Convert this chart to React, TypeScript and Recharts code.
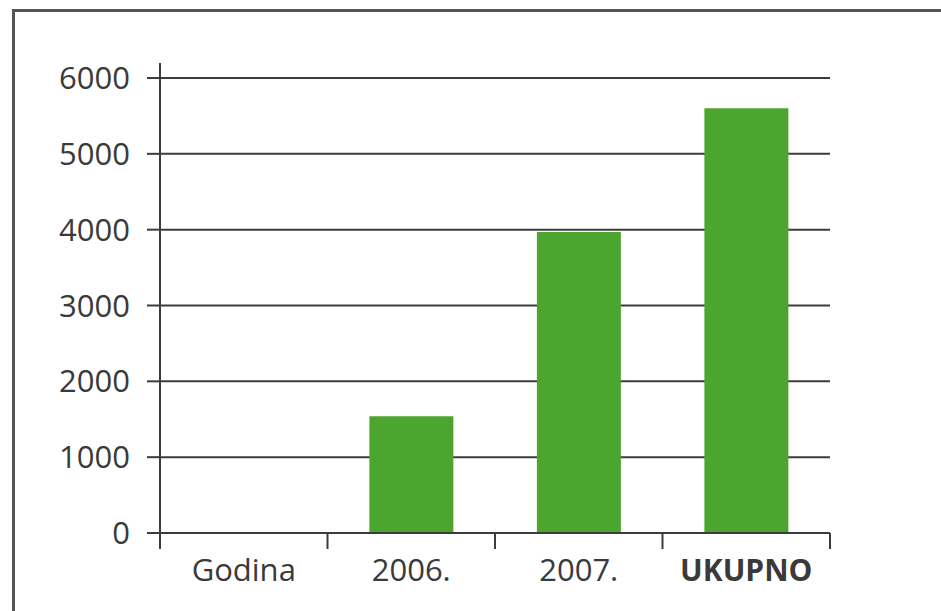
import { Bar, BarChart, CartesianGrid, XAxis, YAxis } from "recharts";

const categories = ["Godina", "2006.", "2007.", "UKUPNO"];
const values: (number | null)[] = [null, 1540, 3970, 5600];
const yTicks = [0, 1000, 2000, 3000, 4000, 5000, 6000];
const boldLabels = ["UKUPNO"];

const data = categories.map((name, i) => ({ name, value: values[i] }));

const W = 941;
const H = 611;
const M = { top: 63, right: 111, bottom: 18, left: 0 };
const Y_AXIS_W = 160;
const PLOT_W = W - M.left - M.right - Y_AXIS_W;
const BAND = PLOT_W / categories.length;

const INK = "#3a3a3a";
const LINE = "#3c3c3c";
const FONT = "'Open Sans', 'Noto Sans', sans-serif";

const XTick = (props: any) => {
  const { x, y, payload, index } = props;
  const last = index === categories.length - 1;
  const bold = boldLabels.includes(payload.value);
  return (
    <g>
      <line x1={x - BAND / 2} x2={x - BAND / 2} y1={y} y2={y + 16} stroke={LINE} strokeWidth={2} />
      {last && <line x1={x + BAND / 2} x2={x + BAND / 2} y1={y} y2={y + 16} stroke={LINE} strokeWidth={2} />}
      <text
        x={x}
        y={y + 48}
        textAnchor="middle"
        fill={INK}
        fontSize={bold ? 30 : 31}
        fontWeight={bold ? 700 : 400}
        fontFamily={FONT}
      >
        {payload.value}
      </text>
    </g>
  );
};

export default function App() {
  return (
    <div style={{ position: "absolute", left: 0, top: 0, width: W, height: H, background: "#fff", overflow: "hidden" }}>
      <div
        style={{
          position: "absolute",
          left: 12,
          top: 9,
          width: W,
          height: H,
          borderTop: "3px solid #555",
          borderLeft: "3px solid #555",
        }}
      />
      <div style={{ position: "absolute", left: 0, top: 0 }}>
        <BarChart width={W} height={H} data={data} margin={M} barCategoryGap="25%">
          <CartesianGrid vertical={false} stroke={LINE} strokeWidth={2} syncWithTicks />
          <XAxis
            dataKey="name"
            height={60}
            axisLine={{ stroke: LINE, strokeWidth: 2 }}
            tickLine={false}
            tickSize={0}
            tickMargin={0}
            interval={0}
            tick={<XTick />}
          />
          <YAxis
            width={Y_AXIS_W}
            domain={[0, 6000]}
            ticks={yTicks}
            padding={{ top: 15, bottom: 0 }}
            axisLine={{ stroke: LINE, strokeWidth: 2 }}
            tickLine={{ stroke: LINE, strokeWidth: 2 }}
            tickSize={13}
            tickMargin={17}
            tick={{ fill: INK, fontSize: 31, fontFamily: FONT }}
          />
          <Bar dataKey="value" fill="#4ca52f" isAnimationActive={false} />
        </BarChart>
      </div>
    </div>
  );
}
